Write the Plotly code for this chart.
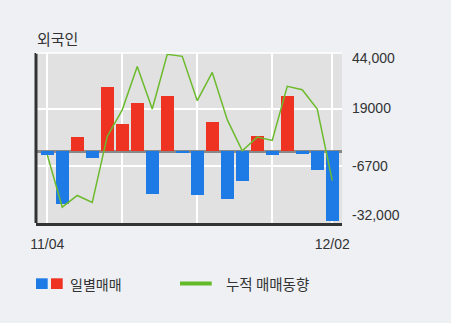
import plotly.graph_objects as go

# ---- data ----
day_index = list(range(20))
x_tick_pos = [0, 5, 10, 15, 19]
x_tick_text = ["11/04", "", "", "", "12/02"]

daily_net = [-1800, -23400, 6300, -3100, 28600, 12400, 21500, -18900, 24600, -900,
             -19700, 13100, -21400, -13400, 7000, -1800, 25000, -1300, -8500, -31300]
cumulative = [-1500, -24900, -19700, -22800, 6700, 18600, 38000, 18950, 43400, 42500,
              22700, 35300, 14200, 300, 6400, 4900, 29100, 27600, 18950, -13100]

y_tick_vals = [44000, 19000, -6700, -32000]
y_tick_text = ["44,000", "19000", "-6700", "-32,000"]

title_text = "외국인"
legend_bar_text = "일별매매"
legend_line_text = "누적 매매동향"

# ---- style ----
W, H = 451, 323
ML, MR, MT, MB = 36, 109, 53, 100
PW, PH = W - ML - MR, H - MT - MB
BLUE = "#1e7be6"
RED = "#ee3322"
GREEN = "#6cbb2e"
TEXT = "#333333"
KFONT = "Noto Sans CJK KR, Gulim, sans-serif"


def px_x(px):
    return (px - ML) / PW


def px_y(py):
    return (H - MB - py) / PH


colors = [RED if v > 0 else BLUE for v in daily_net]

fig = go.Figure()
fig.add_trace(go.Bar(x=day_index, y=daily_net, marker=dict(color=colors, line=dict(width=0)),
                     width=0.85, showlegend=False, hoverinfo="skip"))
fig.add_trace(go.Scatter(x=day_index, y=cumulative, mode="lines",
                         line=dict(color=GREEN, width=1.5), showlegend=False, hoverinfo="skip"))

fig.update_layout(
    width=W, height=H,
    margin=dict(l=ML, r=MR, t=MT, b=MB, pad=0),
    paper_bgcolor="#eef0f4",
    plot_bgcolor="#e1e1e1",
    bargap=0,
    font=dict(family=KFONT, color=TEXT),
    xaxis=dict(range=[-0.75, 19.65], tickmode="array", tickvals=x_tick_pos, ticktext=x_tick_text,
               showgrid=True, gridcolor="#ffffff", gridwidth=1.5, showline=True, linecolor="#333333",
               linewidth=3, ticks="", tickfont=dict(size=14, family="Liberation Sans, Arial", color=TEXT),
               ticklabelstandoff=6, zeroline=False, fixedrange=True),
    yaxis=dict(range=[-32000, 44000], side="right", tickmode="array", tickvals=y_tick_vals,
               showticklabels=False, showgrid=True, gridcolor="#ffffff", gridwidth=1.5,
               zeroline=True, zerolinecolor="#888888", zerolinewidth=3, showline=False, ticks="",
               fixedrange=True),
)

# left dark axis line
fig.add_shape(type="line", xref="paper", yref="paper", x0=0, x1=0, y0=0, y1=1,
              line=dict(color="#333333", width=3))
# top white border
fig.add_shape(type="line", xref="paper", yref="paper", x0=0, x1=1, y0=1, y1=1,
              line=dict(color="#ffffff", width=1.5))

# right axis labels
label_shift = [-5, 1, 0, 8]
for val, txt, sh in zip(y_tick_vals, y_tick_text, label_shift):
    fig.add_annotation(x=1, xref="paper", y=val, yref="y", text=txt, showarrow=False,
                       xanchor="left", yanchor="middle", xshift=8, yshift=sh,
                       font=dict(size=14, family="Liberation Sans, Arial", color=TEXT))

# title
fig.add_annotation(x=px_x(35), xref="paper", y=px_y(38), yref="paper", text=title_text,
                   showarrow=False, xanchor="left", yanchor="middle",
                   font=dict(size=15, family=KFONT, color=TEXT))

# custom legend
fig.add_shape(type="rect", xref="paper", yref="paper", x0=px_x(36), x1=px_x(47.7),
              y0=px_y(289), y1=px_y(278.3), fillcolor=BLUE, line=dict(width=0))
fig.add_shape(type="rect", xref="paper", yref="paper", x0=px_x(51), x1=px_x(62.7),
              y0=px_y(289), y1=px_y(278.3), fillcolor=RED, line=dict(width=0))
fig.add_annotation(x=px_x(68), xref="paper", y=px_y(283.5), yref="paper", text=legend_bar_text,
                   showarrow=False, xanchor="left", yanchor="middle",
                   font=dict(size=14, family=KFONT, color=TEXT))
fig.add_shape(type="line", xref="paper", yref="paper", x0=px_x(180), x1=px_x(211.7),
              y0=px_y(283.5), y1=px_y(283.5), line=dict(color="#63bb2a", width=4))
fig.add_annotation(x=px_x(224), xref="paper", y=px_y(283.5), yref="paper", text=legend_line_text,
                   showarrow=False, xanchor="left", yanchor="middle",
                   font=dict(size=14.5, family=KFONT, color=TEXT))

fig.write_html("out.html", config={"displayModeBar": False})
